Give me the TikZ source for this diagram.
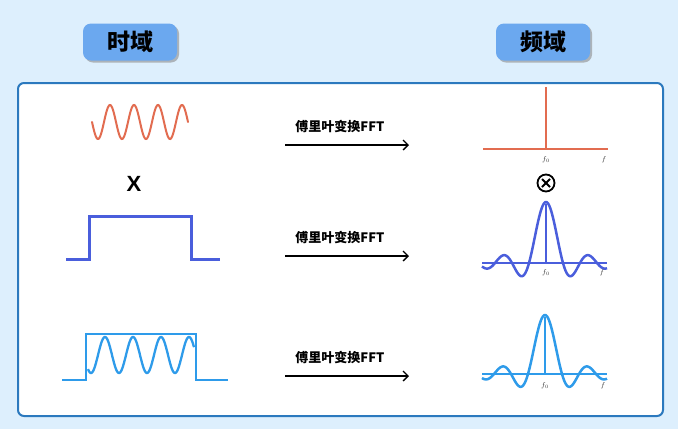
\documentclass[tikz,border=0pt]{standalone}
\usepackage{fontspec}
\setmainfont{Liberation Sans}
\newfontfamily\cjk{Noto Sans CJK SC}
\usetikzlibrary{arrows.meta,shadows,calc}
\definecolor{bgblue}{RGB}{221,239,253}
\definecolor{frameblue}{RGB}{43,121,190}
\definecolor{titleblue}{RGB}{107,168,239}
\definecolor{sinered}{RGB}{226,108,80}
\definecolor{indigo}{RGB}{74,94,220}
\definecolor{skyblue}{RGB}{46,155,234}
\tikzset{
  titlebox/.style={fill=titleblue, rounded corners=8pt, minimum width=94pt, minimum height=37pt,
     inner sep=0pt, font=\cjk\bfseries\fontsize{23}{23}\selectfont,
     drop shadow={shadow xshift=2pt, shadow yshift=-2pt, fill=black!45, opacity=0.6}},
  fftlabel/.style={font=\cjk\bfseries\fontsize{13}{13}\selectfont, inner sep=0pt},
  fftarrow/.style={line width=1.3pt, -{Straight Barb[length=5pt,width=10pt,line width=1.3pt]}},
  flabel/.style={font=\fontsize{7.5}{7.5}\selectfont\itshape, inner sep=0pt, text=black!80},
  declare function={sincf(\u)=sin(180*\u)/(3.14159265*\u);}
}
\begin{document}
\begin{tikzpicture}[x=1pt,y=-1pt]
\useasboundingbox (0,0) rectangle (678,429);
\fill[bgblue] (0,0) rectangle (678,429);
% main frame
\draw[frameblue, line width=2pt, fill=white, rounded corners=6pt] (18,83) rectangle (663,416);
% titles
\node[titlebox] (td) at (130,42) {时域};
\node[titlebox] (fd) at (543,42) {频域};
% time domain
\draw[sinered, line width=2pt, line cap=round] plot[domain=92:188, samples=200] (\x, {122+17*sin(15*(\x-92))});
\node[font=\bfseries\fontsize{22}{22}\selectfont, inner sep=0pt] (times) at (134,184) {X};
\draw[indigo, line width=3pt] (66,259) -- (89,259) -- (89,216) -- (191,216) -- (191,259) -- (220,259);
\draw[skyblue, line width=2.8pt] (62,380) -- (86,380) -- (86,334) -- (196,334) -- (196,380) -- (228,380);
\draw[skyblue, line width=2.3pt] plot[domain=88:194, samples=200] (\x, {355+18*cos(12.857*(\x-91))});
% arrows
\foreach \i/\yy in {1/145, 2/256, 3/376}{
  \coordinate (as\i) at (285,\yy);
  \coordinate (ae\i) at (409,\yy);
  \draw[fftarrow] (as\i) -- (ae\i);
  \node[fftlabel] (lab\i) at (340,\yy-19) {傅里叶变换FFT};
}
% spectrum 1
\coordinate (s1l) at (483,149);
\coordinate (s1r) at (608,149);
\coordinate (s1t) at (546,87);
\coordinate (s1b) at (546,149);
\draw[sinered, line width=1.6pt] (s1l) -- (s1r);
\draw[sinered, line width=1.6pt] (s1t) -- (s1b);
\node[flabel] (f01) at (546,160) {$f_0$};
\node[flabel] (f1) at (604,160) {$f$};
% otimes
\node[draw, circle, line width=1.8pt, minimum size=17pt, inner sep=0pt] (ot) at (546,183) {};
\draw[line width=1.8pt] ($(ot)+(-4,-4)$) -- ($(ot)+(4,4)$);
\draw[line width=1.8pt] ($(ot)+(-4,4)$) -- ($(ot)+(4,-4)$);
% spectrum 2
\draw[indigo, line width=2pt] (482,263) -- (607,263);
\draw[indigo, line width=2.5pt, line join=round] plot[domain=482:607, samples=250] (\x, {263-61*sincf((\x-546)/17+0.0001)});
\draw[indigo, line width=2pt] (546,204) -- (546,263);
\node[flabel] (f02) at (546,273) {$f_0$};
\node[flabel] (f2) at (602,273) {$f$};
% spectrum 3
\draw[skyblue, line width=2pt] (482,374) -- (607,374);
\draw[skyblue, line width=2.5pt, line join=round] plot[domain=482:607, samples=250] (\x, {374-59*sincf((\x-545)/17+0.0001)});
\draw[skyblue, line width=2pt] (545,317) -- (545,374);
\node[flabel] (f03) at (545,386) {$f_0$};
\node[flabel] (f3) at (603,386) {$f$};
\end{tikzpicture}
\end{document}
